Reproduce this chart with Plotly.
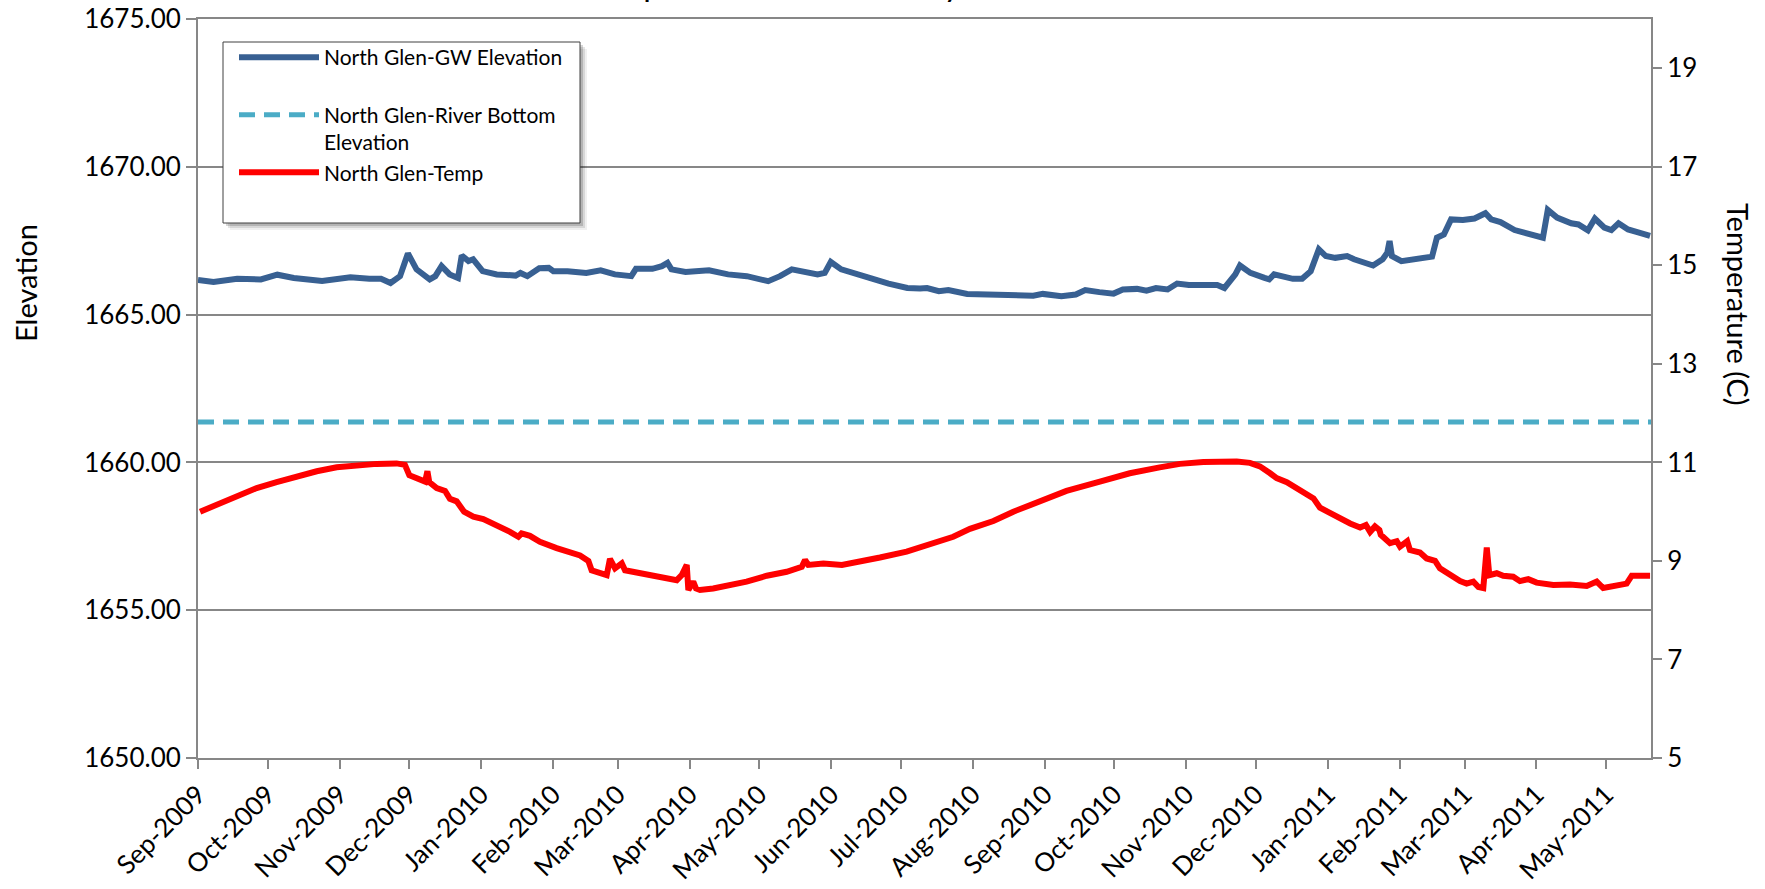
import pandas as pd
import plotly.graph_objects as go

# ---- data -------------------------------------------------------------
START = pd.Timestamp("2009-09-01")
END_DAY = 626.4  # last reading, days after START

# groundwater elevation: days after START, elevation
gw_day = [0, 6.7, 16.9, 27.1, 34.2, 41.3, 53.5, 65.7, 73.9, 78.9, 83.0, 87.1,
          90.5, 94.2, 99.9, 102.3, 105.0, 108.5, 112.1, 113.7, 116.6, 118.6,
          122.7, 128.8, 136.9, 139.0, 142.0, 147.1, 151.2, 153.2, 159.3, 167.4,
          173.6, 179.7, 186.8, 188.8, 195.9, 200.0, 202.4, 204.1, 210.2, 220.3,
          228.5, 236.6, 245.8, 250.9, 256.0, 261.0, 267.1, 270.2, 272.8, 277.3,
          283.4, 289.5, 297.7, 305.8, 311.3, 314.3, 319.4, 323.5, 331.6, 341.8,
          351.9, 360.1, 364.2, 372.2, 378.4, 382.5, 388.6, 394.7, 398.7, 404.8,
          408.9, 413.0, 418.0, 422.1, 427.2, 433.3, 439.4, 442.5, 445.5, 447.2,
          449.2, 453.7, 459.8, 461.8, 463.9, 467.9, 472.0, 476.0, 479.7, 483.2,
          486.2, 490.3, 495.4, 498.4, 506.6, 510.7, 512.7, 513.7, 514.7, 518.8,
          524.9, 532.0, 534.1, 537.1, 540.2, 545.3, 550.3, 555.0, 557.5, 561.5,
          567.6, 573.7, 579.8, 581.9, 585.9, 592.0, 595.1, 599.2, 602.2, 606.3,
          609.3, 612.4, 616.5, 620.5, 626.0]
gw_elev = [1666.17, 1666.10, 1666.21, 1666.19, 1666.35, 1666.24, 1666.14, 1666.26,
           1666.21, 1666.21, 1666.07, 1666.30, 1667.07, 1666.53, 1666.19, 1666.30,
           1666.64, 1666.36, 1666.24, 1667.00, 1666.81, 1666.87, 1666.47, 1666.36,
           1666.32, 1666.41, 1666.30, 1666.57, 1666.58, 1666.47, 1666.47, 1666.41,
           1666.50, 1666.36, 1666.30, 1666.55, 1666.55, 1666.64, 1666.75, 1666.53,
           1666.44, 1666.50, 1666.36, 1666.30, 1666.13, 1666.30, 1666.53, 1666.47,
           1666.36, 1666.41, 1666.78, 1666.53, 1666.36, 1666.24, 1666.05, 1665.90,
           1665.88, 1665.90, 1665.79, 1665.83, 1665.70, 1665.68, 1665.68, 1665.64,
           1665.70, 1665.62, 1665.68, 1665.83, 1665.76, 1665.71, 1665.85, 1665.87,
           1665.81, 1665.90, 1665.85, 1666.05, 1666.00, 1665.98, 1666.00, 1665.90,
           1666.17, 1666.36, 1666.66, 1666.41, 1666.24, 1666.19, 1666.36, 1666.30,
           1666.21, 1666.21, 1666.47, 1667.21, 1666.98, 1666.92, 1666.98, 1666.87,
           1666.66, 1666.87, 1667.09, 1667.49, 1666.98, 1666.81, 1666.87, 1666.96,
           1667.60, 1667.71, 1668.22, 1668.20, 1668.25, 1668.43, 1668.22, 1668.13,
           1667.86, 1667.71, 1667.60, 1668.54, 1668.28, 1668.09, 1668.05, 1667.85,
           1668.25, 1667.94, 1667.86, 1668.09, 1667.88, 1667.79, 1667.66]

# river bottom elevation (constant reference level)
river_bottom_elev = 1661.37

# water temperature (C): days after START, temperature
temp_day = [0.9, 8.1, 13.8, 19.5, 25.3, 33.9, 42.5, 51.2, 59.8, 68.4, 77.0, 85.6,
            89.2, 91.1, 95.7, 97.9, 98.9, 99.7, 102.9, 106.5, 108.6, 111.5, 114.7,
            118.7, 123.0, 130.2, 134.5, 138.1, 139.5, 143.1, 147.4, 154.6, 159.7,
            164.7, 168.3, 169.7, 176.2, 177.6, 179.8, 182.7, 184.1, 190.6, 197.7,
            206.4, 208.5, 210.7, 211.4, 213.5, 214.7, 216.4, 222.1, 229.4, 236.5,
            245.2, 253.8, 260.3, 261.7, 263.1, 269.6, 277.6, 285.4, 294.0, 305.5,
            317.0, 325.6, 332.8, 342.9, 351.5, 363.0, 374.4, 388.8, 401.7, 414.6,
            423.3, 433.4, 440.6, 447.8, 453.5, 457.8, 462.2, 465.0, 469.4, 473.7,
            478.0, 480.9, 483.7, 488.0, 492.4, 496.7, 501.0, 503.5, 505.3, 507.4,
            509.3, 509.9, 513.9, 516.8, 518.2, 521.3, 522.5, 526.8, 529.7, 533.3,
            535.4, 539.8, 544.1, 546.9, 549.8, 552.0, 554.1, 555.6, 556.7, 559.9,
            562.7, 567.0, 569.9, 573.5, 577.1, 584.3, 591.5, 598.7, 603.0, 605.8,
            611.6, 615.9, 618.1, 623.1, 626.0]
temp_c = [10.00, 10.14, 10.25, 10.38, 10.48, 10.60, 10.72, 10.82, 10.90, 10.95,
          10.97, 10.98, 10.95, 10.74, 10.65, 10.61, 10.82, 10.60, 10.48, 10.42,
          10.26, 10.21, 10.00, 9.90, 9.85, 9.70, 9.59, 9.49, 9.56, 9.51, 9.39,
          9.26, 9.20, 9.11, 9.00, 8.81, 8.71, 9.04, 8.85, 8.95, 8.81, 8.75, 8.68,
          8.61, 8.71, 8.92, 8.41, 8.58, 8.44, 8.41, 8.44, 8.51, 8.58, 8.70, 8.78,
          8.88, 9.02, 8.92, 8.95, 8.92, 8.98, 9.07, 9.19, 9.36, 9.49, 9.65, 9.81,
          10.00, 10.22, 10.42, 10.61, 10.78, 10.90, 10.97, 11.01, 11.02, 11.02,
          10.99, 10.92, 10.78, 10.68, 10.60, 10.48, 10.38, 10.27, 10.08, 9.97,
          9.85, 9.76, 9.68, 9.73, 9.59, 9.70, 9.63, 9.53, 9.36, 9.40, 9.29, 9.40,
          9.22, 9.17, 9.05, 9.00, 8.85, 8.70, 8.59, 8.54, 8.58, 8.47, 8.45, 9.27,
          8.71, 8.75, 8.70, 8.68, 8.59, 8.63, 8.56, 8.51, 8.52, 8.49, 8.58, 8.45,
          8.49, 8.54, 8.70, 8.71, 8.70]

elev_ticks = [1650, 1655, 1660, 1665, 1670, 1675]
temp_ticks = [5, 7, 9, 11, 13, 15, 17, 19]

# ---- styling ----------------------------------------------------------
FONT = "Lato, 'Open Sans', sans-serif"
AXIS_GRAY = "#878787"
W, H = 1765, 889
ML, MR, MT, MB = 198, 114, 19, 131
PW, PH = W - ML - MR, H - MT - MB


def px_x(px):
    return (px - ML) / PW


def px_y(py):
    return (H - MB - py) / PH


def to_dates(days):
    return START + pd.to_timedelta(days, unit="D")


fig = go.Figure()
fig.add_trace(go.Scatter(
    x=to_dates(gw_day), y=gw_elev, mode="lines",
    name="North Glen-GW Elevation<br> ",
    line=dict(color="#386092", width=6)))
fig.add_trace(go.Scatter(
    x=to_dates([0, END_DAY]), y=[river_bottom_elev, river_bottom_elev],
    mode="lines", name="North Glen-River Bottom<br>Elevation",
    line=dict(color="#4BACC6", width=5, dash="16px,9px")))
fig.add_trace(go.Scatter(
    x=to_dates(temp_day), y=temp_c, mode="lines", yaxis="y2",
    name="North Glen-Temp<br> ",
    line=dict(color="#FF0000", width=6)))

# legend frame with a soft drop shadow
shapes = []
bx0, bx1, by0, by1 = 223, 580, 42, 223
for off, alpha in [(7, 0.06), (5, 0.10), (3, 0.16)]:
    shapes.append(dict(type="rect", xref="paper", yref="paper", layer="above",
                       x0=px_x(bx0 + off), x1=px_x(bx1 + off),
                       y0=px_y(by1 + off), y1=px_y(by0 + off),
                       line=dict(width=0), fillcolor=f"rgba(0,0,0,{alpha})"))
shapes.append(dict(type="rect", xref="paper", yref="paper", layer="above",
                   x0=px_x(bx0), x1=px_x(bx1), y0=px_y(by1), y1=px_y(by0),
                   line=dict(color="#404040", width=1), fillcolor="white"))

annotations = [
    dict(text="Elevation", xref="paper", yref="paper",
         x=px_x(25), y=px_y(283), textangle=-90, showarrow=False,
         xanchor="center", yanchor="middle",
         font=dict(family=FONT, size=29, color="black")),
    dict(text="Temperature (C)", xref="paper", yref="paper",
         x=px_x(1739), y=px_y(304), textangle=90, showarrow=False,
         xanchor="center", yanchor="middle",
         font=dict(family=FONT, size=29, color="black")),
    dict(text="September 2009 to May 2011", xref="paper", yref="paper",
         x=px_x(826), y=px_y(5), showarrow=False,
         xanchor="center", yanchor="bottom",
         font=dict(family=FONT, size=33, color="black")),
]

fig.update_layout(
    width=W, height=H,
    margin=dict(l=ML, r=MR, t=MT, b=MB, pad=0, autoexpand=False),
    paper_bgcolor="white", plot_bgcolor="white",
    font=dict(family=FONT, size=25, color="black"),
    showlegend=True,
    legend=dict(x=px_x(234), y=px_y(37), xanchor="left", yanchor="top",
                bgcolor="rgba(0,0,0,0)", borderwidth=0,
                itemwidth=80, valign="top", traceorder="normal",
                font=dict(family=FONT, size=21, color="black")),
    xaxis=dict(type="date", range=[START, to_dates([END_DAY])[0]],
               tick0=START, dtick="M1", tickformat="%b-%Y", tickangle=-45,
               ticks="outside", ticklen=9, tickwidth=2, tickcolor=AXIS_GRAY,
               showline=True, linecolor=AXIS_GRAY, linewidth=2, mirror=True,
               showgrid=False, zeroline=False, automargin=False,
               tickfont=dict(family=FONT, size=26, color="black")),
    yaxis=dict(range=[1650, 1675], tickvals=elev_ticks, tickformat=".2f",
               ticks="outside", ticklen=10, tickwidth=2, tickcolor=AXIS_GRAY,
               showline=True, linecolor=AXIS_GRAY, linewidth=2,
               showgrid=True, gridcolor=AXIS_GRAY, gridwidth=1.5,
               zeroline=False, automargin=False,
               tickfont=dict(family=FONT, size=26, color="black")),
    yaxis2=dict(range=[5, 20], tickvals=temp_ticks, overlaying="y",
                side="right", ticks="outside", ticklen=9, tickwidth=2,
                tickcolor=AXIS_GRAY, showline=True, linecolor=AXIS_GRAY,
                linewidth=2, showgrid=False, zeroline=False, automargin=False,
                tickfont=dict(family=FONT, size=26, color="black")),
    shapes=shapes,
    annotations=annotations,
)

fig.write_html("out.html")
